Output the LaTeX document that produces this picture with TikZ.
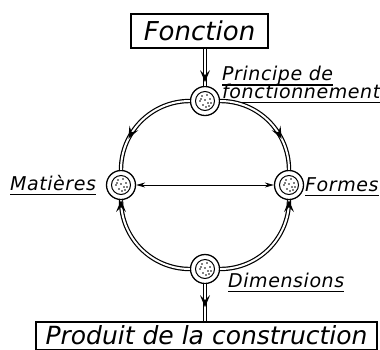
\documentclass[tikz,border=0pt]{standalone}
\usepackage{fontspec}
\setmainfont{DejaVu Sans}
\newfontfamily\lblfont[LetterSpace=3]{DejaVu Sans}
\usetikzlibrary{positioning, arrows.meta, decorations.markings}
% underlined label word
\newcommand{\undl}[1]{\vtop{\hbox{\raisebox{0pt}[\height][0pt]{#1}}\kern3.8pt\hrule height 1.3pt}}
% barbed arrow head, tip at the origin
\newcommand{\barbtip}{\fill[black] (0pt,0pt) -- (-12pt,5pt) -- (-7pt,0pt) -- (-12pt,-5pt) -- cycle;}
\tikzset{
  tipat/.style={postaction={decorate, decoration={markings,
      mark=at position #1 with {\barbtip}}}},
  tipback/.style={postaction={decorate, decoration={markings,
      mark=at position #1 with {\begin{scope}[rotate=180]\barbtip\end{scope}}}}}
}

\begin{document}
\begin{tikzpicture}[
  x=1pt, y=-1pt,
  box/.style={rectangle, draw, line width=1.3pt, inner sep=0pt,
              minimum width=137pt, minimum height=34pt,
              font=\fontsize{26}{28}\selectfont\itshape},
  hub/.style={circle, draw, line width=1.3pt, fill=white,
              minimum size=29pt, inner sep=0pt,
              path picture={
                \draw[black, line width=1pt] (path picture bounding box.center) circle (9.5pt);
                \foreach \d in {(-3,-5),(2,-6),(5,-2),(-5,0),(0,-1),(3,2),(-2,4),(4,5),(-4,-2),(1,6),(6,2)}
                  \fill[black] ([shift={\d}]path picture bounding box.center) circle (0.8pt);
              }},
  lbl/.style={inner sep=0pt, font=\fontsize{19}{21}\lblfont\itshape},
  ring/.style={draw, line width=1.2pt, double distance=2pt},
  dbl/.style={{Stealth[length=9pt,width=5pt]}-{Stealth[length=9pt,width=5pt]}, line width=0.9pt}
]
\useasboundingbox (0,0) rectangle (380,349);
\node[box] (fonction) at (199.5,31) {Fonction};
\node[box, minimum width=341pt, minimum height=28pt, text depth=1.5pt,
      font=\fontsize{25}{27}\selectfont\itshape] (produit) at (206.5,336) {Produit de la construction};
\node[hub] (principe)   at (205,101) {};
\node[hub] (matieres)   at (121,185) {};
\node[hub] (formes)     at (289,185) {};
\node[hub] (dimensions) at (205,269) {};
\node[lbl, anchor=base west] (principelbl) at (222,98)
  {\vbox{\lineskiplimit=-20pt\baselineskip=17.5pt
   \hbox{\undl{Principe de}}\hbox{\undl{fonctionnement}}}};
\node[lbl, anchor=base west] (matiereslbl) at (10,190) {\undl{Matières}};
\node[lbl, anchor=base west] (formeslbl) at (305,191) {\undl{Formes}};
\node[lbl, anchor=base west] (dimensionslbl) at (228,287) {\undl{Dimensions}};
\draw[ring, tipat=0.7] (principe) to[bend right=45] (matieres);
\draw[ring, tipat=0.7] (principe) to[bend left=45] (formes);
\draw[ring, tipback=0, tipat=1] (matieres) to[bend right=45] (dimensions);
\draw[ring, tipback=0, tipat=1] (formes) to[bend left=45] (dimensions);
\draw[ring, tipat=0.9] (fonction.south -| principe.north) -- (principe);
\draw[ring, tipat=0.62] (dimensions) -- (dimensions |- produit.north);
\draw[dbl] (matieres) -- (formes);
\end{tikzpicture}
\end{document}
